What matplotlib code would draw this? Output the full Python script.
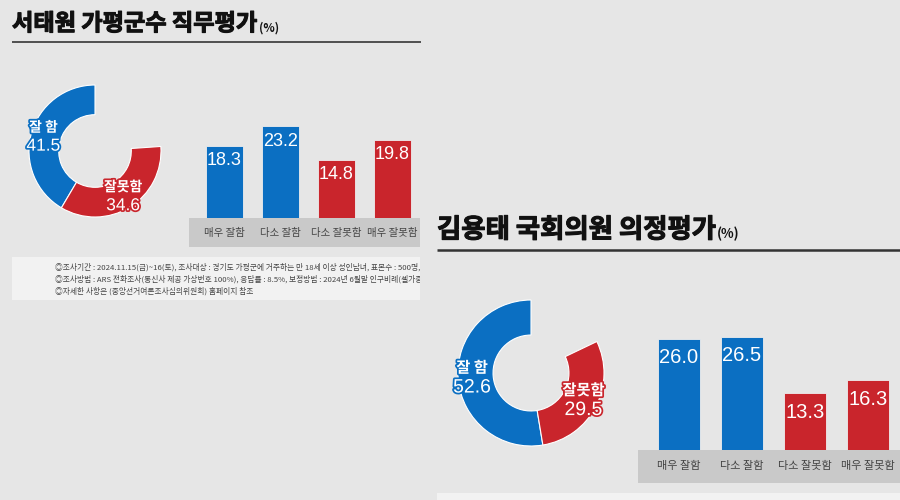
import numpy as np
import matplotlib
matplotlib.use('Agg')
import matplotlib.pyplot as plt
import matplotlib.patheffects as pe
from matplotlib.patches import Rectangle

plt.rcParams['font.family'] = ['Noto Sans CJK KR', 'DejaVu Sans']

W, H = 900, 500
BLUE = '#0b6fc2'
RED = '#c9252c'
BG = '#e6e6e6'
BAND = '#c9c9c9'
NOTE_BG = '#f2f2f2'
NUM_FONT = ['Liberation Sans', 'Noto Sans CJK KR']

# ---- data ----
categories = ['매우 잘함', '다소 잘함', '다소 잘못함', '매우 잘못함']
donut_labels = ['잘 함', '잘못함']

seo_title = '서태원 가평군수 직무평가'
seo_summary = [41.5, 34.6]
seo_detail = [18.3, 23.2, 14.8, 19.8]
seo_notes = [
    '◎조사기간 : 2024.11.15(금)~16(토), 조사대상 : 경기도 가평군에 거주하는 만 18세 이상 성인남녀, 표본수 : 500명, 표본오차',
    '◎조사방법 : ARS 전화조사(통신사 제공 가상번호 100%), 응답률 : 8.5%, 보정방법 : 2024년 6월말 인구비례(셀가중), 조사기관',
    '◎자세한 사항은 (중앙선거여론조사심의위원회) 홈페이지 참조',
]

kim_title = '김용태 국회의원 의정평가'
kim_summary = [52.6, 29.5]
kim_detail = [26.0, 26.5, 13.3, 16.3]


def px_axes(fig, x0, y0, x1, y1):
    """axes placed with image pixel coords (origin top-left)"""
    ax = fig.add_axes([x0 / W, 1 - y1 / H, (x1 - x0) / W, (y1 - y0) / H])
    ax.set_facecolor('none')
    return ax


def draw_title(fig, bg, x, y, text, size, small):
    t = bg.text(x, y, text, fontsize=size, fontweight='black', color='#111',
                ha='left', va='center',
                path_effects=[pe.withStroke(linewidth=0.8, foreground='#111')])
    fig.canvas.draw()
    bb = t.get_window_extent()
    x_end = bb.x1 / fig.dpi * 100  # pixels at dpi 100
    bg.text(x_end + 1, y + size * 0.22, '(%)', fontsize=small, fontweight='bold',
            color='#111', ha='left', va='center')


def draw_donut(fig, cx, cy, r, width, values, name_size, val_size):
    ax = px_axes(fig, cx - r, cy - r, cx + r, cy + r)
    rest = 100 - sum(values)
    wedges, _ = ax.pie(values + [rest], startangle=90, counterclock=True,
                       colors=[BLUE, RED, 'none'], radius=1,
                       wedgeprops=dict(width=width, edgecolor='white', linewidth=0.8))
    wedges[-1].set_visible(False)
    ax.set_xlim(-1, 1)
    ax.set_ylim(-1, 1)
    for w, name, v, col in zip(wedges[:2], donut_labels, values, [BLUE, RED]):
        ang = np.deg2rad((w.theta1 + w.theta2) / 2)
        x, y = 0.81 * np.cos(ang), 0.81 * np.sin(ang)
        stroke = [pe.withStroke(linewidth=2.5, foreground=col)]
        ax.text(x, y + 0.14, name, fontsize=name_size, fontweight='bold', color='white',
                ha='center', va='center', path_effects=stroke)
        ax.text(x, y - 0.14, f'{v:.1f}', fontsize=val_size, color='white',
                family=NUM_FONT, ha='center', va='center', path_effects=stroke)


def draw_bars(fig, x0, x1, top, base, xlim, vmax, values, width,
              val_size, val_off, cat_size, cat_pad):
    ax = px_axes(fig, x0, top, x1, base)
    colors = [BLUE, BLUE, RED, RED]
    xs = np.arange(len(values))
    ax.bar(xs, values, width, color=colors, edgecolor='#eeeeee', linewidth=0.6)
    for x, v in zip(xs, values):
        ax.annotate(f'{v:.1f}', (x, v), xytext=(0, -val_off), textcoords='offset points',
                    ha='center', va='center', color='white', fontsize=val_size,
                    family=NUM_FONT)
    ax.set_xlim(*xlim)
    ax.set_ylim(0, vmax)
    ax.set_xticks(xs, categories, fontsize=cat_size, color='#444')
    ax.tick_params(axis='x', length=0, pad=cat_pad)
    ax.set_yticks([])
    for s in ax.spines.values():
        s.set_visible(False)


fig = plt.figure(figsize=(9, 5), dpi=100, facecolor=BG)
bg = fig.add_axes([0, 0, 1, 1])
bg.set_xlim(0, W)
bg.set_ylim(H, 0)
bg.axis('off')

# ---- panel 1 ----
draw_title(fig, bg, 12, 24, seo_title, 16.7, 8.5)
bg.plot([12, 421], [42, 42], color='#444', lw=1.3, solid_capstyle='butt')
bg.add_patch(Rectangle((189, 218), 231, 29, color=BAND, lw=0))
draw_donut(fig, 95, 151, 66, 0.45, seo_summary, 10, 12.5)
draw_bars(fig, 189, 420, 60, 218, (-0.634, 3.49), 40.0, seo_detail, 0.66,
          13, 10.8, 7.5, 7)

note = px_axes(fig, 12, 257, 420, 300)
note.set_facecolor(NOTE_BG)
note.set_xlim(0, 408)
note.set_ylim(43, 0)
note.set_xticks([])
note.set_yticks([])
for s in note.spines.values():
    s.set_visible(False)
for i, line in enumerate(seo_notes):
    note.text(43, 10 + i * 12, line, fontsize=5.6, color='#444', ha='left',
              va='center', clip_on=True)

# ---- panel 2 ----
draw_title(fig, bg, 437, 230, kim_title, 19, 9.5)
bg.plot([437, 900], [250, 250], color='#333', lw=1.8, solid_capstyle='butt')
bg.add_patch(Rectangle((638, 450), 262, 33, color=BAND, lw=0))
bg.add_patch(Rectangle((437, 493), 463, 7, color=NOTE_BG, lw=0))
draw_donut(fig, 531, 373, 73, 0.48, kim_summary, 11, 14)
draw_bars(fig, 638, 900, 290, 450, (-0.65, 3.51), 37.4, kim_detail, 0.67,
          14.5, 13.7, 8, 8)

fig.savefig('out.png', dpi=100, facecolor=BG)
